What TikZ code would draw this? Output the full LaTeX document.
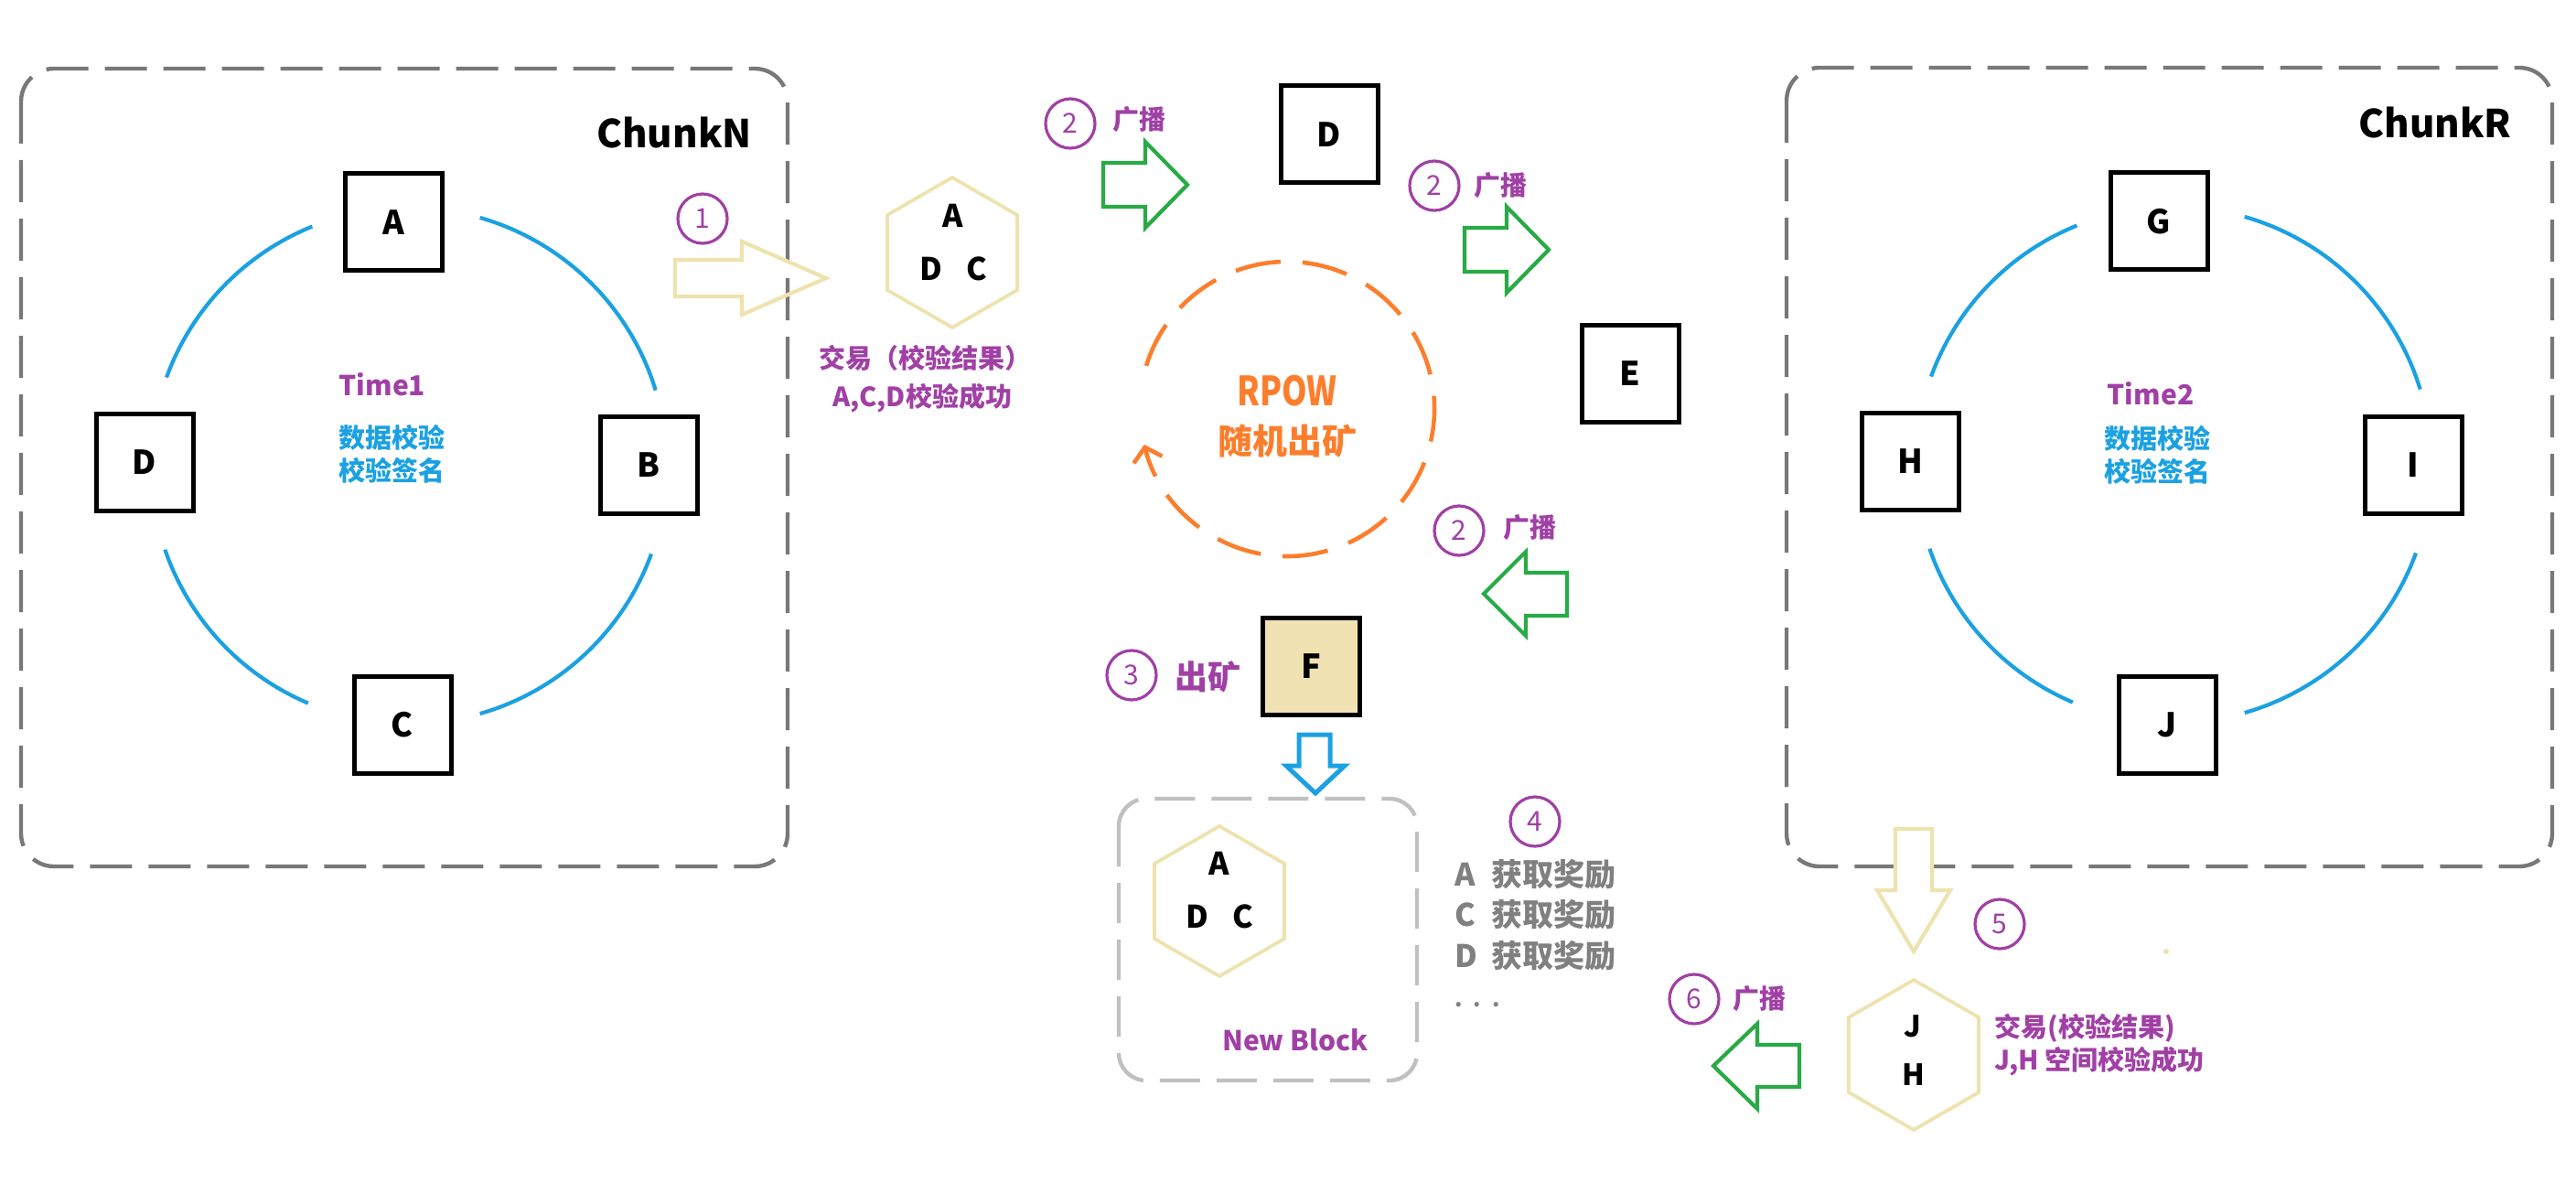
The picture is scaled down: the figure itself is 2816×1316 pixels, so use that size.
\documentclass[tikz,border=0pt]{standalone}
\usepackage{fontspec}
\usepackage{graphicx}
\setmainfont{Noto Sans CJK SC}
\usetikzlibrary{shapes.geometric,arrows.meta}
\definecolor{cpurple}{RGB}{160,64,165}
\definecolor{cblue}{RGB}{27,161,226}
\definecolor{corange}{RGB}{252,126,44}
\definecolor{cgreen}{RGB}{40,170,70}
\definecolor{ckhaki}{RGB}{238,226,174}
\definecolor{cfill}{RGB}{240,226,178}
\definecolor{cgray}{RGB}{120,120,120}
\definecolor{clgray}{RGB}{192,192,192}
\definecolor{ctgray}{RGB}{128,128,128}
\begin{document}
\begin{tikzpicture}[x=0.5pt,y=-0.5pt,
  chunkbox/.style={draw=cgray, line width=2.2pt, dash pattern=on 23pt off 9pt, rounded corners=18pt},
  blockbox/.style={draw=clgray, line width=2.2pt, dash pattern=on 22pt off 9pt, rounded corners=15pt},
  nodebox/.style={draw=black, line width=2.5pt, minimum size=53pt, inner sep=0pt, font=\bfseries\fontsize{18pt}{18pt}\selectfont},
  ring/.style={draw=cblue, line width=2.1pt},
  num/.style={circle, draw=cpurple, line width=1.6pt, minimum size=27pt, inner sep=0pt, text=cpurple, font=\fontsize{15pt}{15pt}\selectfont},
  ptext/.style={text=cpurple, font=\bfseries\fontsize{14.5pt}{17pt}\selectfont, inner sep=0pt},
  bluetxt/.style={text=cblue, font=\bfseries\fontsize{14.5pt}{18pt}\selectfont, align=center, inner sep=0pt},
  timetxt/.style={text=cpurple, font=\bfseries\fontsize{15pt}{15pt}\selectfont, inner sep=0pt},
  chunktxt/.style={font=\bfseries\fontsize{21pt}{21pt}\selectfont, inner sep=0pt},
  hexa/.style={regular polygon, regular polygon sides=6, shape border rotate=30, draw=ckhaki, line width=1.9pt, minimum size=82pt, inner sep=0pt},
  hexletter/.style={font=\bfseries\fontsize{17pt}{17pt}\selectfont, inner sep=0pt},
  graytxt/.style={text=ctgray, font=\bfseries\fontsize{17pt}{17pt}\selectfont, inner sep=0pt},
  barrow/.style={line width=2.1pt, line join=miter},
]
\useasboundingbox (0,0) rectangle (2816,1316);

% ---------------- Left chunk ----------------
\draw[chunkbox] (23,75) rectangle (861,947);
\node[chunktxt] (chunkN) at (737,145) {ChunkN};
\node[nodebox] (nA) at (430,243) {A};
\node[nodebox] (nB) at (709,508) {B};
\node[nodebox] (nC) at (440,792) {C};
\node[nodebox] (nDl) at (158,505) {D};
\coordinate (ringN) at (447,509);
\foreach \a/\b in {17/74,112/160,199/247,286/340}
  \draw[ring] ([shift={(\a:141pt)}]ringN) arc[start angle=\a, end angle=\b, radius=141pt];
\node[timetxt] (time1) at (418,420) {Time1};
\node[bluetxt] (chk1) at (428,496) {数据校验\\校验签名};

% ---------------- Right chunk ----------------
\draw[chunkbox] (1953,74) rectangle (2790,947);
\node[chunktxt] (chunkR) at (2662,134) {ChunkR};
\node[nodebox] (nG) at (2360,242) {G};
\node[nodebox] (nI) at (2638,508) {I};
\node[nodebox] (nJ) at (2369,792) {J};
\node[nodebox] (nH) at (2088,504) {H};
\coordinate (ringR) at (2376,508);
\foreach \a/\b in {17/74,112/160,199/247,286/340}
  \draw[ring] ([shift={(\a:141pt)}]ringR) arc[start angle=\a, end angle=\b, radius=141pt];
\node[timetxt] (time2) at (2351,430) {Time2};
\node[bluetxt] (chk2) at (2358,497) {数据校验\\校验签名};

% ---------------- Step 1 ----------------
\node[num] (s1) at (768,239) {1};
\draw[barrow, draw=ckhaki] (738,284) -- (811,284) -- (811,264) -- (903,304) -- (811,344) -- (811,324) -- (738,324) -- cycle;
\node[hexa] (hex1) at (1041,276) {};
\node[hexletter] (h1A) at (1042,236) {A};
\node[hexletter] (h1D) at (1018,294) {D};
\node[hexletter] (h1C) at (1068,294) {C};
\node[ptext] (tx1a) at (1011,391) {交易（校验结果）};
\node[ptext] (tx1b) at (1008,435) {A,C,D校验成功};

% ---------------- Step 2 (broadcast) ----------------
\node[num] (s2a) at (1170,135) {2};
\node[ptext] (b2a) at (1245,131) {广播};
\draw[barrow, draw=cgreen] (1206,178) -- (1252,178) -- (1252,155) -- (1298,202) -- (1252,249) -- (1252,226) -- (1206,226) -- cycle;
\node[nodebox] (nDm) at (1453,147) {D};

\node[num] (s2b) at (1568,203) {2};
\node[ptext] (b2b) at (1640,203) {广播};
\draw[barrow, draw=cgreen] (1601,249) -- (1647,249) -- (1647,226) -- (1693,273) -- (1647,320) -- (1647,297) -- (1601,297) -- cycle;
\node[nodebox] (nE) at (1782,408) {E};

\node[num] (s2c) at (1595,580) {2};
\node[ptext] (b2c) at (1672,577) {广播};
\draw[barrow, draw=cgreen] (1713,626) -- (1668,626) -- (1668,603) -- (1622,649) -- (1668,695) -- (1668,673) -- (1713,673) -- cycle;

% ---------------- RPOW ----------------
\coordinate (rpowc) at (1407,447);
\draw[draw=corange, line width=2.3pt, dash pattern=on 25pt off 12pt, -{Straight Barb[length=7pt,width=16pt,line width=2.3pt]}]
  ([shift={(163:80.5pt)}]rpowc) arc[start angle=163, end angle=-166, radius=80.5pt];
\node[text=corange, font=\bfseries\fontsize{22pt}{22pt}\selectfont, inner sep=0pt] (rpow) at (1407,427) {\scalebox{0.8}[1]{RPOW}};
\node[text=corange, font=\bfseries\fontsize{19pt}{19pt}\selectfont, inner sep=0pt] (mine) at (1407,482) {随机出矿};

% ---------------- Step 3 ----------------
\node[num] (s3) at (1237,738) {3};
\node[ptext, font=\bfseries\fontsize{18pt}{18pt}\selectfont] (m3) at (1320,740) {出矿};
\node[nodebox, fill=cfill] (nF) at (1433,728) {F};
\draw[line width=2.5pt, line join=miter, draw=cblue] (1420,803) -- (1454,803) -- (1454,837) -- (1470,837) -- (1438,867) -- (1406,837) -- (1420,837) -- cycle;

% ---------------- New block ----------------
\draw[blockbox] (1223,873) rectangle (1549,1181);
\node[hexa] (hex2) at (1333,985) {};
\node[hexletter] (h2A) at (1333,944) {A};
\node[hexletter] (h2D) at (1309,1002) {D};
\node[hexletter] (h2C) at (1359,1002) {C};
\node[ptext, font=\bfseries\fontsize{15pt}{15pt}\selectfont] (nb) at (1416,1137) {New Block};

% ---------------- Step 4 ----------------
\node[num] (s4) at (1678,898) {4};
\node[graytxt, anchor=west] (r1) at (1590,956) {\makebox[20pt][l]{A}获取奖励};
\node[graytxt, anchor=west] (r2) at (1590,1000) {\makebox[20pt][l]{C}获取奖励};
\node[graytxt, anchor=west] (r3) at (1590,1045) {\makebox[20pt][l]{D}获取奖励};
\node[graytxt, anchor=west, font=\bfseries\fontsize{12pt}{12pt}\selectfont\addfontfeature{LetterSpace=50}] (r4) at (1590,1098) {...};

% ---------------- Step 5 ----------------
\draw[barrow, draw=ckhaki, fill=white] (2072,906) -- (2112,906) -- (2112,973) -- (2132,973) -- (2092,1040) -- (2052,973) -- (2072,973) -- cycle;
\node[num] (s5) at (2186,1010) {5};
\fill[ckhaki] (2368,1040) circle (1.5pt);
\node[hexa] (hex3) at (2092,1153) {};
\node[hexletter, font=\bfseries\fontsize{16pt}{16pt}\selectfont] (h3J) at (2091,1122) {J};
\node[hexletter, font=\bfseries\fontsize{16pt}{16pt}\selectfont] (h3H) at (2092,1175) {H};
\node[ptext, anchor=west] (tx3a) at (2180,1124) {交易(校验结果)};
\node[ptext, anchor=west] (tx3b) at (2180,1160) {J,H 空间校验成功};

% ---------------- Step 6 ----------------
\node[num] (s6) at (1852,1092) {6};
\node[ptext] (b6) at (1923,1092) {广播};
\draw[barrow, draw=cgreen] (1967,1142) -- (1921,1142) -- (1921,1119) -- (1873,1165) -- (1921,1212) -- (1921,1188) -- (1967,1188) -- cycle;
\end{tikzpicture}
\end{document}
